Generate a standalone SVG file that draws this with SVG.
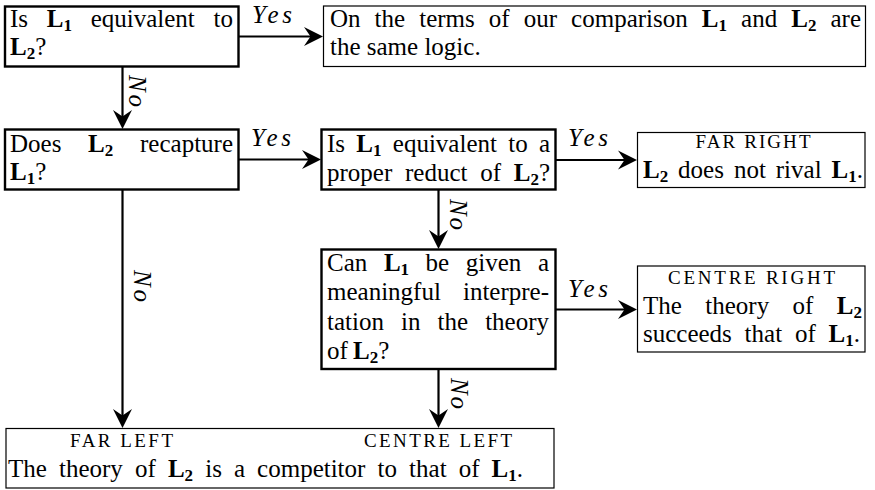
<svg xmlns="http://www.w3.org/2000/svg" width="875" height="490" viewBox="0 0 875 490">
<defs>
<marker id="ah" markerUnits="userSpaceOnUse" viewBox="-22 -11 24 22" markerWidth="24" markerHeight="22" refX="-3" refY="0" orient="auto">
<path d="M0,0 L-19,-9.5 L-12.5,0 L-19,9.5 Z" fill="#000"/>
</marker>
<style>
text{font-family:'Liberation Serif','Times New Roman',serif;font-size:25px;fill:#000}
.b{font-weight:bold}
.bs{font-weight:bold;font-size:17px}
.sc{font-size:19px;text-anchor:middle}
.lab{font-style:italic}
.e{text-anchor:end}
.thick{fill:#fff;stroke:#000;stroke-width:2.4}
.thin{fill:#fff;stroke:#000;stroke-width:1.2}
.ar{fill:none;stroke:#000;stroke-width:2.2;marker-end:url(#ah)}
</style>
</defs>
<rect width="875" height="490" fill="#fff"/>

<g id="connectors">
<path class="ar" d="M238.5,36.5 H320"/>
<path class="ar" d="M122.5,66.5 V126"/>
<path class="ar" d="M238.5,159.5 H318"/>
<path class="ar" d="M122.5,189.5 V425"/>
<path class="ar" d="M555.5,160 H634"/>
<path class="ar" d="M438.5,189.5 V246"/>
<path class="ar" d="M555.5,309.5 H634"/>
<path class="ar" d="M438.5,369 V425"/>
<text class="lab" x="252" y="23" textLength="40" lengthAdjust="spacing">Yes</text>
<text class="lab" x="251" y="146" textLength="40" lengthAdjust="spacing">Yes</text>
<text class="lab" x="568" y="146" textLength="40" lengthAdjust="spacing">Yes</text>
<text class="lab" x="568" y="296.5" textLength="40" lengthAdjust="spacing">Yes</text>
<text class="lab" transform="translate(129,75) rotate(90)" textLength="32" lengthAdjust="spacing">No</text>
<text class="lab" transform="translate(134,270) rotate(90)" textLength="32" lengthAdjust="spacing">No</text>
<text class="lab" transform="translate(450,199) rotate(90)" textLength="31" lengthAdjust="spacing">No</text>
<text class="lab" transform="translate(451,378) rotate(90)" textLength="31" lengthAdjust="spacing">No</text>
</g>

<g id="q1">
<rect class="thick" x="5" y="6.5" width="233.5" height="60"/>
<text y="27"><tspan x="10">Is</tspan><tspan x="46.8" class="b">L</tspan><tspan class="bs" dy="4">1</tspan><tspan x="90.7" dy="-4">equivalent</tspan><tspan x="233" class="e">to</tspan></text>
<text y="55"><tspan x="10" class="b">L</tspan><tspan class="bs" dy="4">2</tspan><tspan dy="-4">?</tspan></text>
</g>

<g id="same">
<rect class="thin" x="323.5" y="6" width="542" height="60.5"/>
<text y="27"><tspan x="330">On</tspan><tspan x="374.6">the</tspan><tspan x="419.2">terms</tspan><tspan x="488.8">of</tspan><tspan x="523.7">our</tspan><tspan x="571.1">comparison</tspan><tspan x="701.8" class="b">L</tspan><tspan class="bs" dy="4">1</tspan><tspan x="741.1" dy="-4">and</tspan><tspan x="791.2" class="b">L</tspan><tspan class="bs" dy="4">2</tspan><tspan x="861" dy="-4" class="e">are</tspan></text>
<text x="330" y="55">the same logic.</text>
</g>

<g id="q2">
<rect class="thick" x="5" y="129.5" width="233.5" height="60"/>
<text y="152"><tspan x="10">Does</tspan><tspan x="88.1" class="b">L</tspan><tspan class="bs" dy="4">2</tspan><tspan x="233" dy="-4" class="e">recapture</tspan></text>
<text y="180"><tspan x="10" class="b">L</tspan><tspan class="bs" dy="4">1</tspan><tspan dy="-4">?</tspan></text>
</g>

<g id="q3">
<rect class="thick" x="321.5" y="129.5" width="234" height="60"/>
<text y="152"><tspan x="327">Is</tspan><tspan x="356.3" class="b">L</tspan><tspan class="bs" dy="4">1</tspan><tspan x="392.8" dy="-4">equivalent</tspan><tspan x="508.2">to</tspan><tspan x="550" class="e">a</tspan></text>
<text y="181"><tspan x="327">proper</tspan><tspan x="405">reduct</tspan><tspan x="480.2">of</tspan><tspan x="513.7" class="b">L</tspan><tspan class="bs" dy="4">2</tspan><tspan dy="-4">?</tspan></text>
</g>

<g id="q4">
<rect class="thick" x="321.5" y="249.5" width="234" height="119.5"/>
<text y="271"><tspan x="327">Can</tspan><tspan x="383.9" class="b">L</tspan><tspan class="bs" dy="4">1</tspan><tspan x="425.6" dy="-4">be</tspan><tspan x="465.8">given</tspan><tspan x="549" class="e">a</tspan></text>
<text y="300"><tspan x="327">meaningful</tspan><tspan x="549" class="e">interpre-</tspan></text>
<text y="329.5"><tspan x="327">tation</tspan><tspan x="401">in</tspan><tspan x="437.5">the</tspan><tspan x="549" class="e">theory</tspan></text>
<text y="358.5"><tspan x="327">of</tspan><tspan x="353" class="b">L</tspan><tspan class="bs" dy="4">2</tspan><tspan dy="-4">?</tspan></text>
</g>

<g id="farright">
<rect class="thin" x="637.5" y="132.5" width="227.5" height="55"/>
<text class="sc" x="753" y="148" textLength="115" lengthAdjust="spacing">FAR RIGHT</text>
<text y="178"><tspan x="643" class="b">L</tspan><tspan class="bs" dy="4">2</tspan><tspan x="678.1" dy="-4">does</tspan><tspan x="733.9">not</tspan><tspan x="775.8">rival</tspan><tspan x="831.6" class="b">L</tspan><tspan class="bs" dy="4">1</tspan><tspan dy="-4">.</tspan></text>
</g>

<g id="centreright">
<rect class="thin" x="637.5" y="266" width="227.5" height="86"/>
<text class="sc" x="751.5" y="284" textLength="167" lengthAdjust="spacing">CENTRE RIGHT</text>
<text y="313.5"><tspan x="643">The</tspan><tspan x="705.3">theory</tspan><tspan x="792.6">of</tspan><tspan x="836.8" class="b">L</tspan><tspan class="bs" dy="4">2</tspan></text>
<text y="341.5"><tspan x="643">succeeds</tspan><tspan x="744.6">that</tspan><tspan x="794.9">of</tspan><tspan x="828.5" class="b">L</tspan><tspan class="bs" dy="4">1</tspan><tspan dy="-4">.</tspan></text>
</g>

<g id="left">
<rect class="thin" x="6" y="428.5" width="548" height="59.5"/>
<text class="sc" x="121.5" y="447" textLength="103" lengthAdjust="spacing">FAR LEFT</text>
<text class="sc" x="438" y="447" textLength="148" lengthAdjust="spacing">CENTRE LEFT</text>
<text y="477"><tspan x="8">The</tspan><tspan x="59">theory</tspan><tspan x="134.9">of</tspan><tspan x="167.9" class="b">L</tspan><tspan class="bs" dy="4">2</tspan><tspan x="205.2" dy="-4">is</tspan><tspan x="233.9">a</tspan><tspan x="257.1">competitor</tspan><tspan x="377.5">to</tspan><tspan x="409.1">that</tspan><tspan x="458.7">of</tspan><tspan x="491.6" class="b">L</tspan><tspan class="bs" dy="4">1</tspan><tspan dy="-4">.</tspan></text>
</g>
</svg>
